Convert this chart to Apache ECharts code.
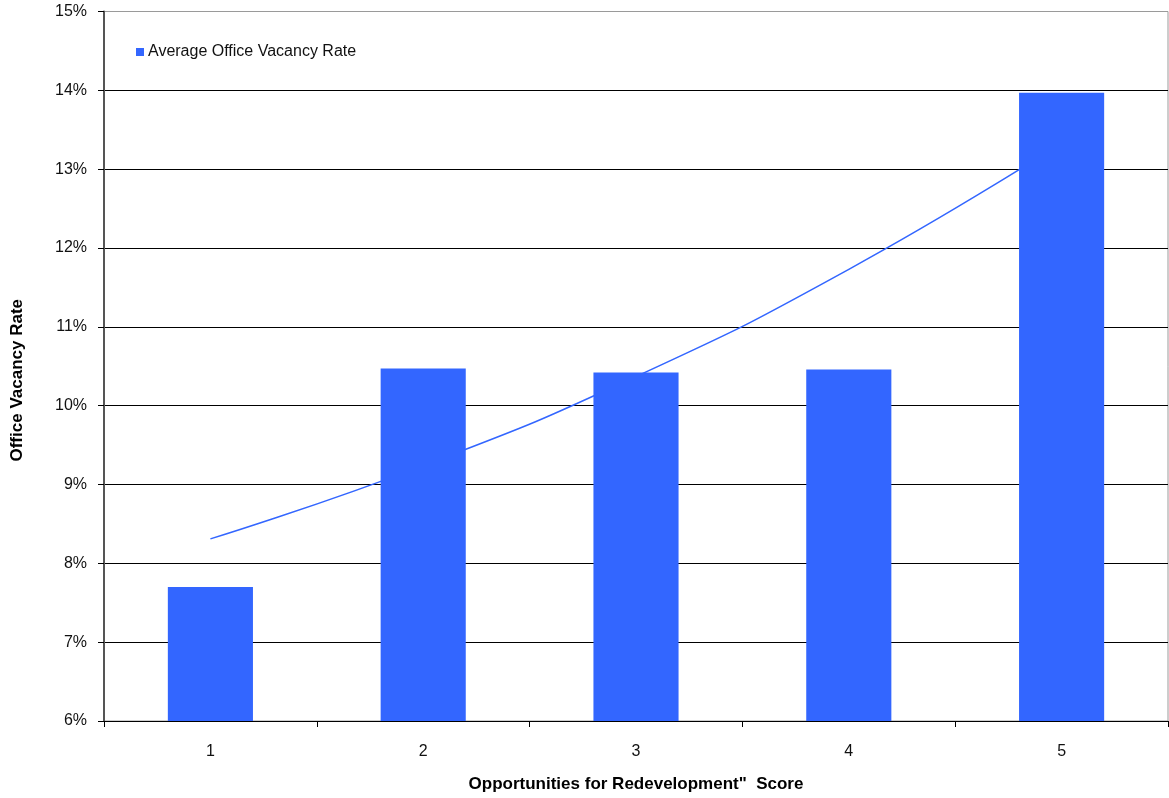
<!DOCTYPE html>
<html>
<head>
<meta charset="utf-8">
<title>Office Vacancy Rate by Redevelopment Score</title>
<script src="https://cdn.jsdelivr.net/npm/echarts@6/dist/echarts.min.js"></script>
<style>
  html, body { margin: 0; padding: 0; background: #fff; }
  #chart { width: 1169px; height: 798px; }
</style>
</head>
<body>
<div id="chart"></div>
<script>
// Redevelopment score categories
const scores = ['1', '2', '3', '4', '5'];
// Average office vacancy rate (%) per score
const vacancyRate = [7.70, 10.47, 10.42, 10.46, 13.97];
// Trend line through the averages (%)
const trendRate = [8.31, 9.24, 10.37, 11.73, 13.33];
// Vertical axis range and step (%)
const yMin = 6, yMax = 15, yStep = 1;

const FONT = '"Liberation Sans", Arial, sans-serif';
const BLUE = '#3366FF';

// one colour per horizontal rule, from 6% upward; the top rule is the frame
const ruleColors = [];
for (let v = yMin; v <= yMax; v += yStep) ruleColors.push(v === yMax ? '#9a9a9a' : '#000000');

const chart = echarts.init(document.getElementById('chart'), null, { renderer: 'canvas' });
chart.setOption({
  animation: false,
  backgroundColor: '#ffffff',
  textStyle: { fontFamily: FONT },
  grid: {
    left: 104, right: 1, top: 11.5, bottom: 74,
    show: true, borderColor: '#9a9a9a', borderWidth: 1, backgroundColor: 'transparent'
  },
  legend: {
    data: ['Average Office Vacancy Rate'],
    left: 131, top: 39,
    icon: 'rect', itemWidth: 8, itemHeight: 8, itemGap: 0,
    textStyle: { fontFamily: FONT, fontSize: 16, color: '#111', padding: [0, 0, 0, -1] }
  },
  xAxis: {
    type: 'category',
    data: scores,
    boundaryGap: true,
    name: 'Opportunities for Redevelopment"  Score',
    nameLocation: 'middle',
    nameGap: 55,
    nameTextStyle: { fontFamily: FONT, fontSize: 17, fontWeight: 'bold', color: '#000' },
    axisLine: { lineStyle: { color: '#000', width: 1 } },
    axisTick: { show: true, length: 6, lineStyle: { color: '#000' } },
    axisLabel: { fontFamily: FONT, fontSize: 16, color: '#111', margin: 23 },
    splitLine: { show: false }
  },
  yAxis: {
    type: 'value',
    min: yMin, max: yMax, interval: yStep,
    name: 'Office Vacancy Rate',
    nameLocation: 'middle',
    nameGap: 78,
    nameRotate: 90,
    nameTextStyle: {
      fontFamily: FONT, fontSize: 17, fontWeight: 'bold', color: '#000',
      padding: [0, 28, 0, 0]
    },
    axisLine: { show: true, lineStyle: { color: '#555', width: 2 } },
    axisTick: { show: true, length: 6, lineStyle: { color: '#000' } },
    axisLabel: {
      fontFamily: FONT, fontSize: 16, color: '#111', margin: 17,
      padding: [4, 0, 0, 0], formatter: '{value}%'
    },
    splitLine: { show: true, lineStyle: { color: ruleColors, width: 1 } }
  },
  series: [
    {
      name: 'Trend',
      type: 'line',
      data: trendRate,
      smooth: true,
      symbol: 'none',
      z: 1,
      lineStyle: { color: BLUE, width: 1.5 },
      silent: true
    },
    {
      name: 'Average Office Vacancy Rate',
      type: 'bar',
      data: vacancyRate,
      barWidth: '40%',
      z: 3,
      itemStyle: { color: BLUE }
    }
  ]
});
</script>
</body>
</html>
